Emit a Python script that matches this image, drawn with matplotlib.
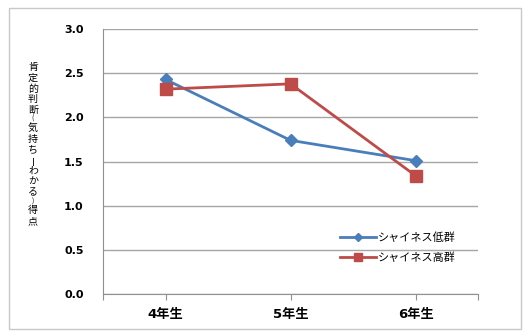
import matplotlib.pyplot as plt
from matplotlib.patches import Rectangle

plt.rcParams['font.family'] = ['DejaVu Sans', 'Noto Sans CJK JP']

# 学年ごとの平均得点
grades = ["4年生", "5年生", "6年生"]
low_shy = [2.43, 1.74, 1.51]
high_shy = [2.32, 2.38, 1.34]
y_ticks = [0.0, 0.5, 1.0, 1.5, 2.0, 2.5, 3.0]
ylabel_text = "肯定的判断(気持ちーわかる)得点"

W, H = 523, 331
fig = plt.figure(figsize=(W / 100, H / 100), dpi=100)
ax = fig.add_axes([0.197, 0.112, 0.717, 0.8])

# 外枠
fig.patches.append(Rectangle((9 / W, 2 / H), 512 / W, 321 / H,
                             transform=fig.transFigure, fill=False,
                             edgecolor='#c8c8c8', linewidth=1))

x = range(len(grades))
ax.plot(x, low_shy, color='#4a7ebb', marker='D', markersize=6, linewidth=2,
        label="シャイネス低群", zorder=3)
ax.plot(x, high_shy, color='#be4b48', marker='s', markersize=8, linewidth=2,
        label="シャイネス高群", zorder=3)

ax.set_xlim(-0.5, 2.5)
ax.set_ylim(0, 3.0)
ax.set_yticks(y_ticks)
ax.set_yticklabels([f"{v:.1f}" for v in y_ticks], fontsize=8, fontweight='bold')
ax.set_xticks([-0.5, 0, 1, 2, 2.5])
ax.set_xticklabels([""] + grades + [""], fontsize=9.5, fontweight='semibold')

ax.grid(axis='y', color='#a6a6a6', linewidth=1)
ax.set_axisbelow(True)
for side in ['top', 'right']:
    ax.spines[side].set_visible(False)
ax.spines['left'].set_color('#909090')
ax.spines['bottom'].set_color('#909090')
ax.tick_params(axis='y', length=0, pad=14)
ax.tick_params(axis='x', length=4, color='#909090', pad=6)

# 縦書きの軸ラベル（1文字ずつ配置、括弧は小さく、長音符は縦向き）
top = 62
for ch in ylabel_text:
    paren = ch in "()"
    step = 8 if paren else 10.6
    fig.text(33 / W, 1 - (top + step / 2) / H, ch,
             fontsize=5 if paren else 7.2,
             ha='center', va='center', rotation=90 if ch == "ー" else 0,
             family=['Noto Sans CJK JP', 'DejaVu Sans'])
    top += step

ax.legend(loc='upper left', bbox_to_anchor=(0.62, 0.25), frameon=False,
          handlelength=3.2, handletextpad=0.2, labelspacing=0.85,
          markerscale=0.65, borderaxespad=0,
          prop={'family': ['Noto Sans CJK JP'], 'size': 8})

fig.savefig("out.png", dpi=100)
